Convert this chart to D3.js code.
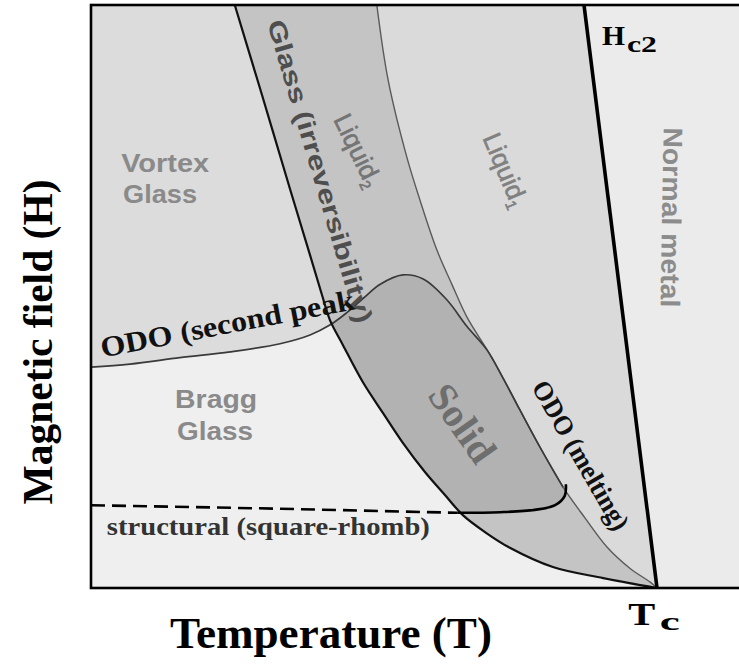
<!DOCTYPE html>
<html>
<head>
<meta charset="utf-8">
<script src="https://cdn.jsdelivr.net/npm/d3@7"></script>
<style>
  body { margin: 0; background: #fff; }
  svg { display: block; }
</style>
</head>
<body>
<svg id="chart" width="739" height="666"></svg>
<script>
// Schematic vortex phase diagram. Coordinates are reduced units:
// T is temperature / Tc, H is field / field at the top of the frame.

// Irreversibility line (left edge of the glass band)
const irreversibilityLine = [
  [0.254, 1.000], [0.302, 0.846], [0.352, 0.683], [0.387, 0.571],
  [0.408, 0.503], [0.422, 0.460], [0.445, 0.417], [0.481, 0.352],
  [0.516, 0.300], [0.551, 0.249], [0.590, 0.199], [0.625, 0.160],
  [0.657, 0.125], [0.696, 0.096], [0.740, 0.069], [0.816, 0.036],
  [0.905, 0.017], [1.000, 0.000]
];

// Right edge of the glass band (liquid2 / liquid1 boundary)
const bandEdge = [
  [0.505, 1.000], [0.525, 0.871], [0.558, 0.739], [0.581, 0.666],
  [0.611, 0.580], [0.638, 0.520], [0.664, 0.465], [0.700, 0.408],
  [0.728, 0.360], [0.758, 0.305], [0.793, 0.242], [0.834, 0.173],
  [0.873, 0.120], [0.912, 0.070], [0.952, 0.034], [0.988, 0.010],
  [1.000, 0.000]
];

// Order-disorder line: second peak, then over the solid dome
const odoSecondPeak = [
  [0.000, 0.379], [0.069, 0.384], [0.157, 0.395], [0.246, 0.405],
  [0.334, 0.419], [0.387, 0.434], [0.422, 0.451], [0.449, 0.470],
  [0.481, 0.497], [0.511, 0.521], [0.551, 0.537], [0.587, 0.530],
  [0.629, 0.494], [0.664, 0.449], [0.700, 0.408]
];

// Order-disorder line: melting branch
const odoMelting = [
  [0.700, 0.408], [0.728, 0.360], [0.758, 0.305], [0.793, 0.242],
  [0.834, 0.173]
];

// Lower edge of the solid phase
const solidBottom = [
  [0.839, 0.178], [0.837, 0.158], [0.820, 0.142], [0.784, 0.134],
  [0.723, 0.130], [0.647, 0.129]
];

// Structural (square-rhombic) transition
const structuralLine = [[0.000, 0.142], [0.334, 0.136], [0.647, 0.129]];

// Upper critical field
const hc2Line = [[1.000, 0.000], [0.871, 1.000]];

// Extent of the plotting frame
const frameT = [0, 1.2];
const frameH = [0, 1];

const svg = d3.select("#chart");
const x = d3.scaleLinear().domain([0, 1]).range([91, 657]);
const y = d3.scaleLinear().domain([0, 1]).range([588, 5]);

const smooth = d3.line().x(d => x(d[0])).y(d => y(d[1])).curve(d3.curveCatmullRom.alpha(0.5));
const straight = d3.line().x(d => x(d[0])).y(d => y(d[1]));

// Chain several curves into one closed outline
function outline(parts) {
  return parts.map((p, i) => {
    const d = (p.length > 2 ? smooth : straight)(p);
    return i === 0 ? d : "L" + d.slice(1);
  }).join("") + "Z";
}

const serif = "'Liberation Serif','Times New Roman',serif";
const sans = "'Liberation Sans',Arial,sans-serif";

const plot = svg.append("g");
plot.append("clipPath").attr("id", "frameClip").append("rect")
  .attr("x", x(frameT[0])).attr("y", y(frameH[1]))
  .attr("width", x(frameT[1]) - x(frameT[0]))
  .attr("height", y(frameH[0]) - y(frameH[1]));
const regions = plot.append("g").attr("clip-path", "url(#frameClip)");

// Bragg glass background
regions.append("rect")
  .attr("x", x(frameT[0])).attr("y", y(frameH[1]))
  .attr("width", x(frameT[1]) - x(frameT[0]))
  .attr("height", y(frameH[0]) - y(frameH[1]))
  .attr("fill", "#efefef");

// Vortex glass
const crossT = 0.422;
regions.append("path")
  .attr("d", outline([
    [[0, 1], irreversibilityLine[0]],
    irreversibilityLine.filter(d => d[0] <= crossT),
    odoSecondPeak.filter(d => d[0] <= crossT).slice().reverse()
  ]))
  .attr("fill", "#dcdcdc");

// Liquid 1
regions.append("path")
  .attr("d", outline([bandEdge, hc2Line]))
  .attr("fill", "#dadada");

// Normal metal
regions.append("path")
  .attr("d", outline([hc2Line.slice().reverse(), [[0.871, 1], [frameT[1], 1], [frameT[1], 0], [1, 0]]]))
  .attr("fill", "#ebebeb");

// Glass band (liquid 2)
regions.append("path")
  .attr("d", outline([irreversibilityLine, bandEdge.slice(0, -1).reverse()]))
  .attr("fill", "#c4c4c4");

// Solid
regions.append("path")
  .attr("d", outline([
    odoSecondPeak.filter(d => d[0] >= crossT),
    odoMelting,
    solidBottom,
    irreversibilityLine.filter(d => d[0] >= crossT && d[0] <= 0.657).slice().reverse()
  ]))
  .attr("fill", "#b2b2b2");

// Boundary lines
regions.append("path").attr("d", smooth(bandEdge))
  .attr("fill", "none").attr("stroke", "#5a5a5a").attr("stroke-width", 1.4);
regions.append("path").attr("d", smooth(odoSecondPeak.concat(odoMelting.slice(1))))
  .attr("fill", "none").attr("stroke", "#3a3a3a").attr("stroke-width", 1.7);
regions.append("path").attr("d", smooth(irreversibilityLine))
  .attr("fill", "none").attr("stroke", "#111").attr("stroke-width", 2.2);
regions.append("path").attr("d", smooth(solidBottom))
  .attr("fill", "none").attr("stroke", "#000").attr("stroke-width", 2.6);
regions.append("path").attr("d", straight(structuralLine))
  .attr("fill", "none").attr("stroke", "#000").attr("stroke-width", 2.6)
  .attr("stroke-dasharray", "14,7");
regions.append("path").attr("d", straight(hc2Line))
  .attr("fill", "none").attr("stroke", "#000").attr("stroke-width", 3.6);

// Frame
plot.append("rect")
  .attr("x", x(frameT[0])).attr("y", y(frameH[1]))
  .attr("width", x(frameT[1]) - x(frameT[0]))
  .attr("height", y(frameH[0]) - y(frameH[1]))
  .attr("fill", "none").attr("stroke", "#000").attr("stroke-width", 2.6);

// Text placed at (t, h), rotated by angle degrees
function label(t, h, angle, text, opts) {
  const g = svg.append("g")
    .attr("transform", `translate(${x(t)},${y(h)}) rotate(${angle})`);
  const el = g.append("text")
    .attr("text-anchor", opts.anchor || "middle")
    .attr("dy", opts.dy !== undefined ? opts.dy : "0.35em")
    .attr("font-family", opts.family || sans)
    .attr("font-weight", opts.weight || "bold")
    .attr("font-size", opts.size)
    .attr("fill", opts.fill || "#000")
    .text(text);
  if (opts.length) el.attr("textLength", opts.length).attr("lengthAdjust", "spacingAndGlyphs");
  return el;
}

// Region labels
label(0.131, 0.714, 0, "Vortex", { size: 25, fill: "#8a8a8a", dy: 0, length: 88 });
label(0.122, 0.660, 0, "Glass", { size: 25, fill: "#8a8a8a", dy: 0, length: 74 });
label(0.221, 0.309, 0, "Bragg", { size: 25, fill: "#8a8a8a", dy: 0, length: 82 });
label(0.219, 0.254, 0, "Glass", { size: 25, fill: "#8a8a8a", dy: 0, length: 76 });
label(1.009, 0.636, 91, "Normal metal", { size: 27, fill: "#8c8c8c", dy: 0, length: 180 });
label(0.405, 0.715, 73.5, "Glass (irreversibility)", { size: 25, fill: "#4e4e4e", length: 315 });
label(0.657, 0.283, 55, "Solid", { size: 40, fill: "#6e6e6e", family: serif });
label(0.866, 0.228, 60, "ODO (melting)", { size: 27, fill: "#111", family: serif, length: 168 });
label(0.244, 0.437, -10.8, "ODO (second peak", { size: 29, fill: "#111", family: serif, dy: 0, length: 258 });
label(0.028, 0.091, 0, "structural (square-rhomb)", { size: 26, fill: "#333", family: serif, dy: 0, anchor: "start", length: 323 });

// Liquid labels with subscripts
function liquid(t, h, angle, sub, fill) {
  const el = label(t, h, angle, "Liquid", { size: 26, fill: fill, weight: "normal" })
    .attr("stroke", fill).attr("stroke-width", 0.6);
  el.append("tspan").attr("font-size", 15).attr("dy", 5).text(sub);
}
liquid(0.472, 0.751, 64, "2", "#747474");
liquid(0.733, 0.717, 67, "1", "#808080");

// H_c2 and T_c markers
label(0.903, 0.931, 0, "H", { size: 28, family: serif, dy: 0, anchor: "start", length: 23 });
label(0.947, 0.919, 0, "c2", { size: 24, family: serif, dy: 0, anchor: "start", length: 30 });
label(0.949, -0.063, 0, "T", { size: 31, family: serif, dy: 0, anchor: "start", length: 27 });
label(1.005, -0.072, 0, "c", { size: 26, family: serif, dy: 0, anchor: "start", length: 20 });

// Axis titles
label(0.424, -0.103, 0, "Temperature (T)", { size: 45, family: serif, dy: 0, length: 322 });
label(-0.069, 0.422, -90, "Magnetic field (H)", { size: 42, family: serif, dy: 0, length: 325 });
</script>
</body>
</html>
